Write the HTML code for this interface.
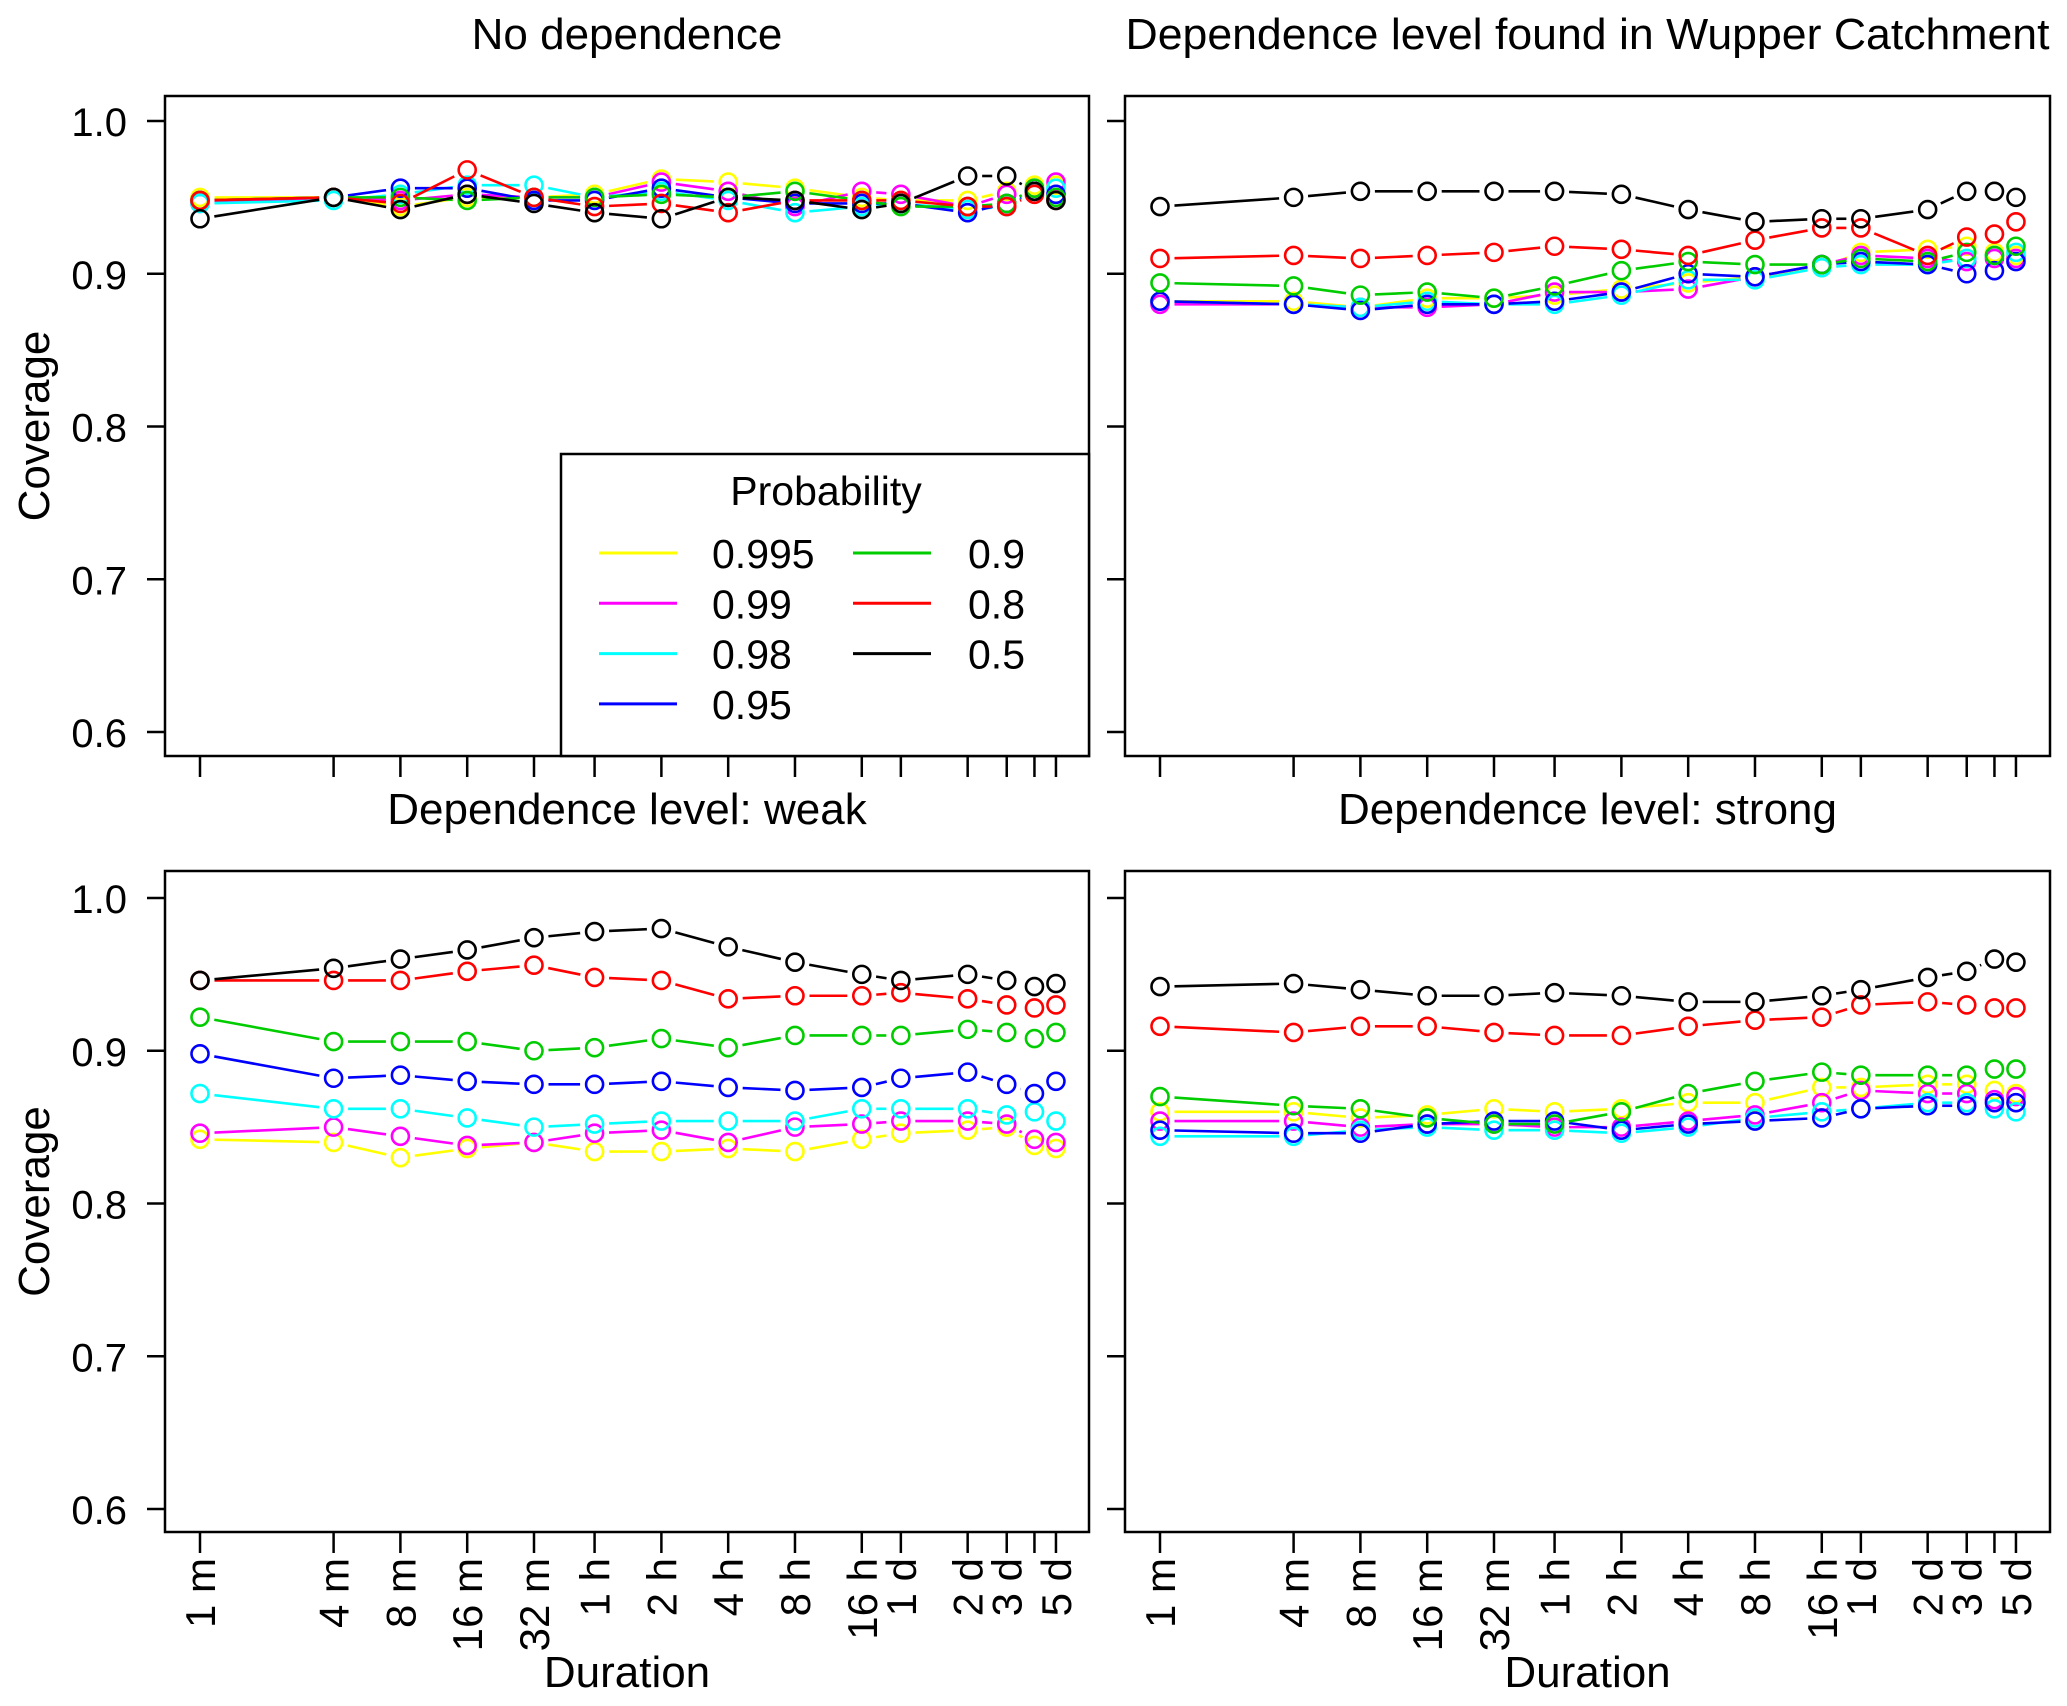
<!DOCTYPE html>
<html><head><meta charset="utf-8"><style>
html,body{margin:0;padding:0;background:#fff}
svg{display:block}
text{font-family:"Liberation Sans",sans-serif;fill:#000}
</style></head><body>
<svg id="chart" width="2067" height="1706" viewBox="0 0 2067 1706" xmlns="http://www.w3.org/2000/svg"></svg>
<script>
const durations=[1,4,8,16,32,60,120,240,480,960,1440,2880,4320,5760,7200];
const tickLabels=["1 m","4 m","8 m","16 m","32 m","1 h","2 h","4 h","8 h","16 h","1 d","2 d","3 d","","5 d"];
const yTicks=[0.6,0.7,0.8,0.9,1.0];
const probs=["0.995","0.99","0.98","0.95","0.9","0.8","0.5"];
const colors=["#ffff00","#ff00ff","#00ffff","#0000ff","#00cc00","#ff0000","#000000"];
const titles=["No dependence","Dependence level found in Wupper Catchment","Dependence level: weak","Dependence level: strong"];
// values per panel, series order: 0.995,0.99,0.98,0.95,0.9,0.8,0.5
const noDep=[
[.950,.950,.944,.950,.950,.952,.962,.960,.956,.950,.948,.948,.954,.958,.958],
[.946,.950,.948,.952,.950,.950,.960,.954,.944,.954,.952,.944,.952,.956,.960],
[.946,.948,.952,.958,.958,.950,.954,.948,.940,.944,.946,.942,.944,.954,.956],
[.948,.950,.956,.956,.948,.948,.956,.950,.946,.946,.946,.940,.946,.954,.952],
[.948,.950,.950,.948,.950,.950,.952,.950,.954,.948,.944,.944,.946,.956,.950],
[.948,.950,.946,.968,.950,.944,.946,.940,.948,.948,.948,.944,.944,.952,.948],
[.936,.950,.942,.952,.946,.940,.936,.950,.948,.942,.946,.964,.964,.954,.948]];
const wupper=[
[.882,.882,.878,.884,.884,.886,.890,.894,.898,.904,.914,.916,.918,.914,.912],
[.880,.880,.878,.878,.880,.888,.888,.890,.898,.906,.912,.910,.908,.910,.910],
[.882,.880,.878,.882,.880,.880,.886,.896,.896,.904,.906,.906,.910,.912,.914],
[.882,.880,.876,.880,.880,.882,.888,.900,.898,.906,.908,.906,.900,.902,.908],
[.894,.892,.886,.888,.884,.892,.902,.908,.906,.906,.910,.908,.914,.912,.918],
[.910,.912,.910,.912,.914,.918,.916,.912,.922,.930,.930,.912,.924,.926,.934],
[.944,.950,.954,.954,.954,.954,.952,.942,.934,.936,.936,.942,.954,.954,.950]];
const weak=[
[.842,.840,.830,.836,.840,.834,.834,.836,.834,.842,.846,.848,.850,.838,.836],
[.846,.850,.844,.838,.840,.846,.848,.840,.850,.852,.854,.854,.852,.842,.840],
[.872,.862,.862,.856,.850,.852,.854,.854,.854,.862,.862,.862,.858,.860,.854],
[.898,.882,.884,.880,.878,.878,.880,.876,.874,.876,.882,.886,.878,.872,.880],
[.922,.906,.906,.906,.900,.902,.908,.902,.910,.910,.910,.914,.912,.908,.912],
[.946,.946,.946,.952,.956,.948,.946,.934,.936,.936,.938,.934,.930,.928,.930],
[.946,.954,.960,.966,.974,.978,.980,.968,.958,.950,.946,.950,.946,.942,.944]];
const strong=[
[.860,.860,.856,.858,.862,.860,.862,.866,.866,.876,.876,.878,.878,.874,.872],
[.854,.854,.850,.852,.852,.850,.850,.854,.858,.866,.874,.872,.872,.868,.870],
[.844,.844,.848,.850,.848,.848,.846,.850,.856,.860,.862,.866,.866,.862,.860],
[.848,.846,.846,.852,.854,.854,.848,.852,.854,.856,.862,.864,.864,.866,.866],
[.870,.864,.862,.856,.852,.852,.860,.872,.880,.886,.884,.884,.884,.888,.888],
[.916,.912,.916,.916,.912,.910,.910,.916,.920,.922,.930,.932,.930,.928,.928],
[.942,.944,.940,.936,.936,.938,.936,.932,.932,.936,.940,.948,.952,.960,.958]];
const panelData=[noDep,wupper,weak,strong];

const NS="http://www.w3.org/2000/svg";
const svg=document.getElementById('chart');
function mk(tag,attrs,parent){const e=document.createElementNS(NS,tag);for(const k in attrs)e.setAttribute(k,attrs[k]);(parent||svg).appendChild(e);return e;}
const panels=[{l:165,r:1089,t:96,b:756,y1:121},{l:1125,r:2050,t:96,b:756,y1:121},{l:165,r:1089,t:871,b:1532,y1:898},{l:1125,r:2050,t:871,b:1532,y1:898}];
const R=8.5;
panels.forEach((p,pi)=>{
  const g=mk('g',{});
  
  
  const xs=d=>p.l+35+66.8*Math.log2(d);
  const ys=v=>p.y1+(1-v)*1527.5;
  const t=mk('text',{x:(p.l+p.r)/2,y:p.t-47,'text-anchor':'middle','font-size':44},g);
  t.textContent=titles[pi];
  
  
  if(pi===1){t.setAttribute('textLength',924);t.setAttribute('lengthAdjust','spacingAndGlyphs');}
  const fr=mk('rect',{x:p.l,y:p.t,width:p.r-p.l,height:p.b-p.t,fill:'none',stroke:'#000','stroke-width':2.5},g);
  
  
  yTicks.forEach(v=>{
    mk('line',{x1:p.l-18,x2:p.l,y1:ys(v),y2:ys(v),stroke:'#000','stroke-width':2.5},g);
    if(pi%2===0){const tt=mk('text',{x:p.l-38,y:ys(v)+15,'text-anchor':'end','font-size':40},g);tt.textContent=v.toFixed(1);
      
      }
  });
  durations.forEach((d,i)=>{
    const x=xs(d);
    mk('line',{x1:x,x2:x,y1:p.b,y2:p.b+21,stroke:'#000','stroke-width':2.5},g);
    if(pi>=2&&tickLabels[i]){const tt=mk('text',{x:0,y:0,'text-anchor':'end','font-size':42,transform:`translate(${x+15},${p.b+26}) rotate(-90)`},g);tt.textContent=tickLabels[i];
      
      }
  });
  if(pi%2===0){const yl=mk('text',{x:0,y:0,'text-anchor':'middle','font-size':44,transform:`translate(${49},${(p.t+p.b)/2}) rotate(-90)`},g);yl.textContent='Coverage';
    
    }
  if(pi>=2){const xl=mk('text',{x:(p.l+p.r)/2,y:1687,'text-anchor':'middle','font-size':44},g);xl.textContent='Duration';
    
    }
  panelData[pi].forEach((ser,si)=>{
    const sg=mk('g',{},g);
    
    
    for(let i=0;i<ser.length-1;i++){
      const x1=xs(durations[i]),y1=ys(ser[i]),x2=xs(durations[i+1]),y2=ys(ser[i+1]);
      const dx=x2-x1,dy=y2-y1,L=Math.hypot(dx,dy),gap=R+6;
      if(L>2*gap){const ux=dx/L,uy=dy/L;
        mk('line',{x1:x1+ux*gap,y1:y1+uy*gap,x2:x2-ux*gap,y2:y2-uy*gap,stroke:colors[si],'stroke-width':2.6},sg);}
    }
    ser.forEach((v,i)=>{
      const c=mk('ellipse',{cx:xs(durations[i]),cy:ys(v),rx:R,ry:R,fill:'none',stroke:colors[si],'stroke-width':2.6},sg);
      
      
    });
  });
});
// legend
const lg=mk('g',{});


mk('rect',{x:561,y:454,width:528,height:302,fill:'#fff',stroke:'#000','stroke-width':2.5},lg);
const lt=mk('text',{x:826,y:505,'text-anchor':'middle','font-size':41},lg);lt.textContent='Probability';


probs.forEach((pr,i)=>{
  const col=i<4?0:1,row=i<4?i:i-4;
  const lx=col?853:599,tx=col?968:712,y=553+row*50.3;
  const e=mk('g',{},lg);
  
  
  mk('line',{x1:lx,x2:lx+78,y1:y,y2:y,stroke:colors[i],'stroke-width':3},e);
  const tx2=mk('text',{x:tx,y:y+15,'font-size':41},e);tx2.textContent=pr;
});
</script>
</body></html>
